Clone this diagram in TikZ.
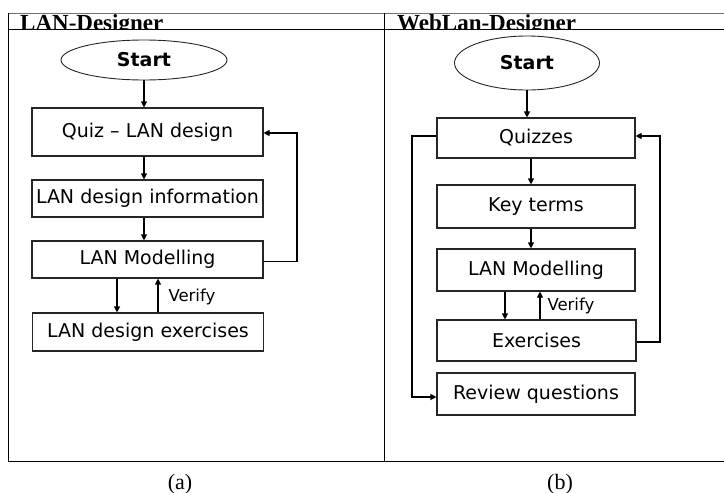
\documentclass[tikz,border=0pt]{standalone}
\usepackage{fontspec}
\setmainfont{Liberation Serif}
\newfontfamily\boxfont{DejaVu Sans}
\usetikzlibrary{shapes.geometric,arrows.meta}
\tikzset{
  box/.style={draw=black!85, line width=1.1pt, minimum height=37pt, inner sep=0pt,
    font=\boxfont\fontsize{19}{21}\selectfont},
  startnode/.style={draw=black!85, ellipse, line width=0.9pt, inner sep=0pt,
    font=\boxfont\bfseries\fontsize{19}{21}\selectfont},
  arr/.style={line width=1.1pt, -{Triangle[length=6pt,width=6pt]}},
  frame/.style={line width=0.8pt},
  head/.style={anchor=base west, inner sep=0pt, font=\bfseries\fontsize{23}{25}\selectfont},
  subcap/.style={inner sep=0pt, font=\fontsize{22}{24}\selectfont},
  note/.style={anchor=west, inner sep=0pt, font=\boxfont\fontsize{16.5}{18}\selectfont},
}
\begin{document}
\begin{tikzpicture}[x=1pt, y=-1pt]
  \useasboundingbox (0,0) rectangle (724,493);
  % Table frame
  \draw[frame, black!55] (8,13) -- (724,13);
  \draw[frame] (8,29) -- (724,29);
  \draw[frame] (8,13) -- (8,461) -- (724,461);
  \draw[frame] (384,13) -- (384,461);
  \begin{scope}
    \clip (8,13) rectangle (724,29);
    \node[head] (head1) at (20,30.5) {LAN-Designer};
    \node[head] (head2) at (397,30.5) {WebLan-Designer};
  \end{scope}
  \node[subcap] (capa) at (180,484) {(a)};
  \node[subcap] (capb) at (560,484) {(b)};

  % Left: LAN-Designer
  \node[startnode, minimum width=166pt, minimum height=40pt] (start1) at (144,60) {Start};
  \node[box, minimum width=231pt, minimum height=48pt] (quiz1) at (147.5,132) {Quiz – LAN design};
  \node[box, minimum width=231pt] (info1) at (147.5,198.5) {LAN design information};
  \node[box, minimum width=231pt] (model1) at (147.5,259.5) {LAN Modelling};
  \node[box, minimum width=231pt, minimum height=38pt] (exer1) at (148,332) {LAN design exercises};
  \draw[arr] (start1.south) -- (start1.south |- quiz1.north);
  \foreach \a/\b in {quiz1/info1, info1/model1}
    \draw[arr] ([xshift=-3.5pt]\a.south) -- ([xshift=-3.5pt]\b.north);
  \draw[arr] ([xshift=-30.5pt]model1.south) -- ([xshift=-30.5pt]model1.south |- exer1.north);
  \draw[arr] ([xshift=10.5pt]model1.south |- exer1.north) -- ([xshift=10.5pt]model1.south)
    node[note, pos=0.45, xshift=10pt] (ver1) {Verify};
  \draw[arr] ([yshift=-2pt]model1.east) -| (297,133) -- (quiz1.east |- 0,133);

  % Right: WebLan-Designer
  \node[startnode, minimum width=145pt, minimum height=54pt] (start2) at (527,63) {Start};
  \node[box, minimum width=198pt, minimum height=40pt] (quiz2) at (536,138) {Quizzes};
  \node[box, minimum width=198pt, minimum height=43pt] (key2) at (536,206.5) {Key terms};
  \node[box, minimum width=198pt, minimum height=42pt] (model2) at (536,270) {LAN Modelling};
  \node[box, minimum width=199pt, minimum height=41pt] (exer2) at (536.5,340.5) {Exercises};
  \node[box, minimum width=198pt, minimum height=42pt] (rev2) at (536,394) {Review questions};
  \draw[arr] (start2.south) -- (start2.south |- quiz2.north);
  \foreach \a/\b in {quiz2/key2, key2/model2}
    \draw[arr] ([xshift=-5pt]\a.south) -- ([xshift=-5pt]\b.north);
  \draw[arr] ([xshift=-31pt]model2.south) -- ([xshift=-31pt]model2.south |- exer2.north);
  \draw[arr] ([xshift=4pt]model2.south |- exer2.north) -- ([xshift=4pt]model2.south)
    node[note, pos=0.5, xshift=7pt] (ver2) {Verify};
  \draw[arr] ([yshift=-1.5pt]exer2.east) -| (660,136) -- (quiz2.east |- 0,136);
  \draw[arr] ([yshift=2pt]quiz2.west) -| (412,397) -- (rev2.west |- 0,397);
\end{tikzpicture}
\end{document}
